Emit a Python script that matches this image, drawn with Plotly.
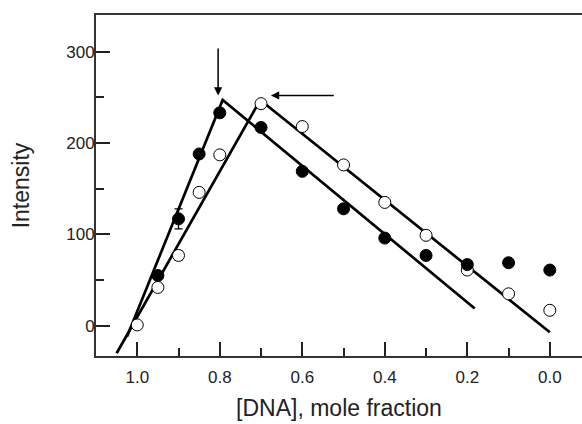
import plotly.graph_objects as go

# Filled circles series
x_filled = [0.95, 0.90, 0.85, 0.80, 0.70, 0.60, 0.50, 0.40, 0.30, 0.20, 0.10, 0.00]
y_filled = [55, 117, 188, 233, 217, 169, 128, 96, 77, 67, 69, 61]
err_filled = [0, 11, 0, 0, 0, 0, 0, 0, 0, 0, 0, 0]

# Open circles series
x_open = [1.00, 0.95, 0.90, 0.85, 0.80, 0.70, 0.60, 0.50, 0.40, 0.30, 0.20, 0.10, 0.00]
y_open = [1, 42, 77, 146, 187, 243, 218, 176, 135, 99, 61, 35, 17]
err_open = [0, 0, 5, 0, 0, 0, 0, 0, 0, 0, 0, 0, 0]

# Fitted lines (vertices)
fit_filled_x = [1.025, 0.793, 0.182]
fit_filled_y = [-12, 247, 19]
fit_open_x = [1.05, 0.702, 0.0]
fit_open_y = [-30, 247, -7]

# Arrows: (tail_x, tail_y, head_x, head_y)
arrow_v = (0.804, 305, 0.804, 252)
arrow_h = (0.52, 252, 0.676, 252)

x_ticks = [1.0, 0.8, 0.6, 0.4, 0.2, 0.0]
x_ticklabels = ["1.0", "0.8", "0.6", "0.4", "0.2", "0.0"]
y_ticks = [0, 100, 200, 300]

font_family = "Liberation Sans, Arial, sans-serif"

fig = go.Figure()

fig.add_trace(go.Scatter(x=fit_filled_x, y=fit_filled_y, mode="lines",
                         line=dict(color="black", width=2.7), showlegend=False))
fig.add_trace(go.Scatter(x=fit_open_x, y=fit_open_y, mode="lines",
                         line=dict(color="black", width=2.7), showlegend=False))

fig.add_trace(go.Scatter(
    x=x_open, y=y_open, mode="markers",
    marker=dict(symbol="circle", size=12, color="white", line=dict(color="black", width=1)),
    error_y=dict(type="data", array=err_open, visible=True, color="black", thickness=1.3, width=4),
    showlegend=False))
fig.add_trace(go.Scatter(
    x=x_filled, y=y_filled, mode="markers",
    marker=dict(symbol="circle", size=12, color="black", line=dict(color="black", width=1)),
    error_y=dict(type="data", array=err_filled, visible=True, color="black", thickness=1.3, width=4),
    showlegend=False))

for tx, ty, hx, hy in (arrow_v, arrow_h):
    fig.add_annotation(x=hx, y=hy, ax=tx, ay=ty, xref="x", yref="y", axref="x", ayref="y",
                       showarrow=True, arrowhead=2, arrowsize=1.1, arrowwidth=1.5,
                       arrowcolor="black", text="")

fig.update_layout(
    width=582, height=424,
    margin=dict(l=96, r=0, t=15, b=68),
    paper_bgcolor="white", plot_bgcolor="white",
    font=dict(family=font_family, size=17, color="#222"),
)

fig.update_xaxes(
    range=[1.1, -0.078], tickvals=x_ticks, ticktext=x_ticklabels,
    ticks="inside", ticklen=14, tickwidth=1.5, tickcolor="#222",
    minor=dict(dtick=0.1, tick0=0, ticks="inside", ticklen=8, tickwidth=1.5, tickcolor="#222", showgrid=False),
    showline=True, linewidth=2, linecolor="#333", mirror=True,
    showgrid=False, zeroline=False,
    tickfont=dict(size=17), ticklabelstandoff=5,
    title=dict(text="[DNA], mole fraction", font=dict(size=23), standoff=13),
)
fig.update_yaxes(
    range=[-33, 340], tickvals=y_ticks,
    ticks="inside", ticklen=14, tickwidth=1.5, tickcolor="#222",
    minor=dict(dtick=50, tick0=0, ticks="inside", ticklen=8, tickwidth=1.5, tickcolor="#222", showgrid=False),
    showline=True, linewidth=2, linecolor="#333", mirror=False,
    showgrid=False, zeroline=False,
    tickfont=dict(size=17), ticklabelstandoff=-4,
    title=dict(text="Intensity", font=dict(size=23), standoff=30),
)

fig.write_html("out.html")
